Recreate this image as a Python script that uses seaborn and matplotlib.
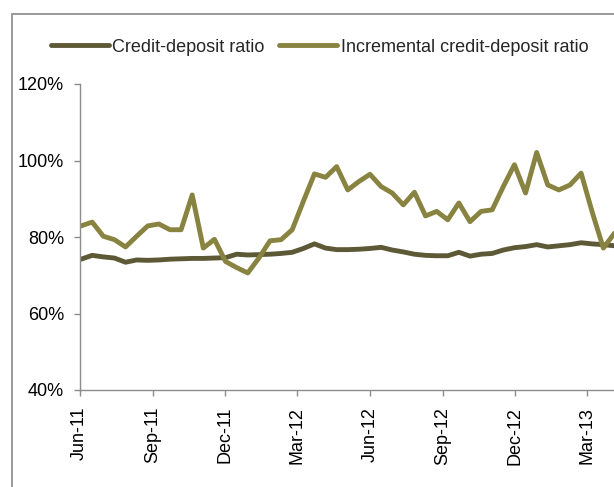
import matplotlib
matplotlib.use("Agg")
import matplotlib.pyplot as plt
import matplotlib.dates as mdates
from matplotlib.patches import Rectangle
from matplotlib.lines import Line2D
from matplotlib.ticker import FuncFormatter
import seaborn as sns
import pandas as pd

# Fortnightly reporting dates, Jun 2011 - Apr 2013
start_date = "2011-06-03"
n_fortnights = 49

credit_deposit = [
    74.2, 75.2, 74.8, 74.5, 73.4, 74.0, 73.9, 74.0, 74.2, 74.3,
    74.4, 74.4, 74.5, 74.6, 75.5, 75.3, 75.4, 75.5, 75.7, 76.0,
    77.0, 78.2, 77.1, 76.7, 76.7, 76.8, 77.0, 77.3, 76.6, 76.1,
    75.5, 75.2, 75.1, 75.1, 76.0, 75.0, 75.5, 75.7, 76.6, 77.2,
    77.5, 78.0, 77.4, 77.7, 78.0, 78.5, 78.2, 78.0, 77.7,
]
incremental_cd = [
    82.9, 83.9, 80.2, 79.3, 77.4, 80.2, 82.9, 83.4, 81.9, 81.9,
    91.0, 77.1, 79.4, 73.6, 72.0, 70.6, 74.5, 79.0, 79.3, 81.9,
    89.3, 96.5, 95.6, 98.4, 92.3, 94.5, 96.4, 93.2, 91.5, 88.4,
    91.7, 85.5, 86.7, 84.5, 88.9, 84.0, 86.7, 87.1, 93.2, 98.9,
    91.5, 102.1, 93.6, 92.3, 93.6, 96.7, 86.5, 77.1, 81.0,
]
series_names = ["Credit-deposit ratio", "Incremental credit-deposit ratio"]
tick_labels = ["Jun-11", "Sep-11", "Dec-11", "Mar-12",
               "Jun-12", "Sep-12", "Dec-12", "Mar-13"]
y_ticks = [40, 60, 80, 100, 120]

colors = ["#5D5936", "#898341"]
axis_gray = "#8C8C8C"

dates = pd.date_range(start_date, periods=n_fortnights, freq="14D")
df = pd.concat([
    pd.DataFrame({"date": dates, "ratio": credit_deposit, "series": series_names[0]}),
    pd.DataFrame({"date": dates, "ratio": incremental_cd, "series": series_names[1]}),
])

sns.set_style("white")
plt.rcParams["font.family"] = ["Liberation Sans", "DejaVu Sans"]

W, H = 614, 487
fig = plt.figure(figsize=(W / 100, H / 100), dpi=100)
ax = fig.add_axes([79.5 / W, (H - 390) / H, (620 - 79.5) / W, 306 / H])

sns.lineplot(data=df, x="date", y="ratio", hue="series", palette=colors,
             linewidth=3.5, ax=ax, legend=False)
for ln in ax.get_lines():
    ln.set_solid_joinstyle("round")
    ln.set_solid_capstyle("round")

ax.set_ylim(40, 120)
ax.set_yticks(y_ticks)
ax.yaxis.set_major_formatter(FuncFormatter(lambda v, _: f"{v:.0f}%"))

tick_dates = [pd.to_datetime(t, format="%b-%y") for t in tick_labels]
ax.set_xlim(pd.Timestamp("2011-06-01"), pd.Timestamp("2013-04-12"))
ax.set_xticks(tick_dates)
ax.set_xticklabels(tick_labels, rotation=90)

ax.set_xlabel("")
ax.set_ylabel("")
for side in ["top", "right"]:
    ax.spines[side].set_visible(False)
for side in ["left", "bottom"]:
    ax.spines[side].set_color(axis_gray)
    ax.spines[side].set_linewidth(1.0)
ax.tick_params(axis="both", which="major", length=4, width=1.0,
               color=axis_gray, labelsize=13, labelcolor="black",
               direction="out", left=True, bottom=True)
ax.tick_params(axis="x", pad=8)
ax.tick_params(axis="y", pad=7)

# Legend across the top of the chart area
handles = [Line2D([0], [0], color=c, lw=3.5, solid_capstyle="round") for c in colors]
fig.legend(handles, series_names, loc="center left",
           bbox_to_anchor=(51 / W, (H - 47) / H), ncol=2, frameon=False,
           fontsize=13, handlelength=3.2, handletextpad=0.2,
           columnspacing=0.8, borderpad=0, borderaxespad=0)

# Chart-area border
fig.add_artist(Rectangle((12 / W, -0.2), 1.2, (H - 14) / H + 0.2,
                         transform=fig.transFigure, fill=False,
                         edgecolor="#929292", linewidth=1.3, clip_on=False))

fig.savefig("out.png", dpi=100)
